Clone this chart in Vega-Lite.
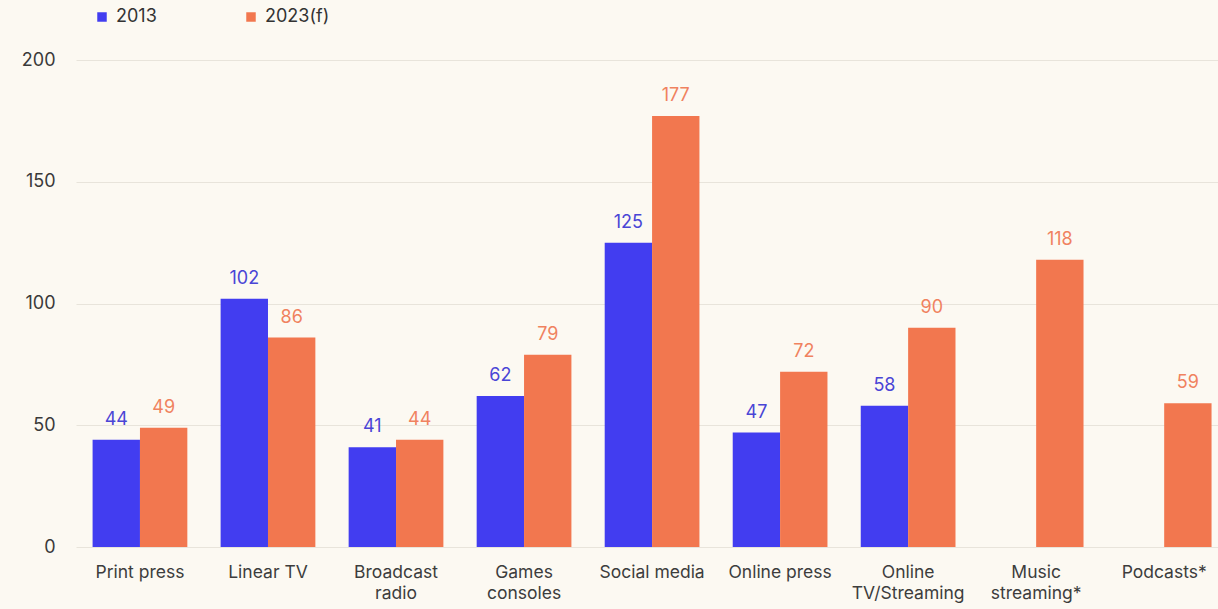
{
  "$schema": "https://vega.github.io/schema/vega-lite/v6.json",
  "width": 1142,
  "height": 487,
  "autosize": {"type": "none"},
  "padding": {"left": 76, "top": 60, "right": 0, "bottom": 62},
  "background": "#fcf9f2",
  "config": {"view": {"stroke": null}, "font": "Inter"},
  "data": {
    "values": [
      {"medium": "Print press", "year": "2013", "value": 44},
      {"medium": "Print press", "year": "2023(f)", "value": 49},
      {"medium": "Linear TV", "year": "2013", "value": 102},
      {"medium": "Linear TV", "year": "2023(f)", "value": 86},
      {"medium": "Broadcast|radio", "year": "2013", "value": 41},
      {"medium": "Broadcast|radio", "year": "2023(f)", "value": 44},
      {"medium": "Games|consoles", "year": "2013", "value": 62},
      {"medium": "Games|consoles", "year": "2023(f)", "value": 79},
      {"medium": "Social media", "year": "2013", "value": 125},
      {"medium": "Social media", "year": "2023(f)", "value": 177},
      {"medium": "Online press", "year": "2013", "value": 47},
      {"medium": "Online press", "year": "2023(f)", "value": 72},
      {"medium": "Online|TV/Streaming", "year": "2013", "value": 58},
      {"medium": "Online|TV/Streaming", "year": "2023(f)", "value": 90},
      {"medium": "Music|streaming*", "year": "2023(f)", "value": 118},
      {"medium": "Podcasts*", "year": "2023(f)", "value": 59}
    ]
  },
  "encoding": {
    "x": {
      "field": "medium",
      "type": "nominal",
      "sort": null,
      "scale": {"paddingInner": 0.26, "paddingOuter": 0.09, "align": 0.72},
      "axis": {
        "title": null,
        "labelAngle": 0,
        "domain": false,
        "ticks": false,
        "labelFontSize": 17.5,
        "labelColor": "#3d3d3d",
        "labelPadding": 16,
        "labelLineHeight": 21,
        "labelExpr": "split(datum.label, '|')"
      }
    },
    "xOffset": {
      "field": "year",
      "type": "nominal",
      "sort": ["2013", "2023(f)"],
      "scale": {"domain": ["2013", "2023(f)"], "paddingInner": 0, "paddingOuter": 0}
    },
    "y": {
      "field": "value",
      "type": "quantitative",
      "scale": {"domain": [0, 200]},
      "axis": {
        "title": null,
        "values": [0, 50, 100, 150, 200],
        "grid": true,
        "gridColor": "#e8e4db",
        "domain": false,
        "ticks": false,
        "labelFontSize": 18,
        "labelColor": "#3a3a3a",
        "labelPadding": 21
      }
    }
  },
  "layer": [
    {
      "mark": {"type": "bar"},
      "encoding": {
        "color": {
          "field": "year",
          "type": "nominal",
          "scale": {"domain": ["2013", "2023(f)"], "range": ["#423df0", "#f2774f"]},
          "legend": {
            "title": null,
            "orient": "none",
            "legendX": 17,
            "legendY": -52,
            "direction": "horizontal",
            "symbolType": "square",
            "symbolSize": 90,
            "symbolStrokeWidth": 0,
            "labelFontSize": 18,
            "labelColor": "#333333",
            "labelOffset": 5,
            "columnPadding": 85
          }
        }
      }
    },
    {
      "mark": {"type": "text", "baseline": "alphabetic", "dy": -15, "fontSize": 18},
      "encoding": {
        "text": {"field": "value", "type": "quantitative"},
        "color": {
          "field": "year",
          "type": "nominal",
          "scale": {"domain": ["2013", "2023(f)"], "range": ["#4a45d6", "#f0825f"]},
          "legend": null
        }
      }
    }
  ],
  "resolve": {"scale": {"color": "independent"}}
}
